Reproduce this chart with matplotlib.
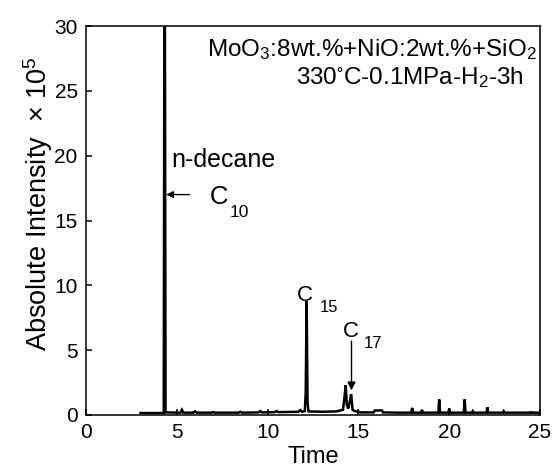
import matplotlib
matplotlib.use("Agg")
import matplotlib.pyplot as plt

plt.rcParams['font.family'] = ['Liberation Sans', 'DejaVu Sans']
plt.rcParams['mathtext.fontset'] = 'custom'
plt.rcParams['mathtext.rm'] = 'Liberation Sans'
plt.rcParams['mathtext.it'] = 'Liberation Sans'
plt.rcParams['mathtext.default'] = 'regular'

# Chromatogram (time, intensity x 1e5)
time = [3.00, 4.28, 4.33, 4.38, 5.20, 5.28, 5.36, 5.90, 6.00, 6.10, 6.90, 7.00, 7.10,
        8.40, 8.50, 8.60, 9.50, 9.60, 9.70, 10.40, 10.50, 10.60, 11.70, 11.80, 11.90,
        12.05, 12.10, 12.15, 12.20, 12.25, 13.00, 13.80, 14.15, 14.22, 14.30, 14.36,
        14.44, 14.52, 14.60, 14.68, 14.80, 15.00, 15.10, 15.85, 15.90, 16.30, 16.35,
        17.20, 17.90, 17.96, 18.02, 18.45, 18.50, 18.55, 19.40, 19.45, 19.50, 19.95,
        20.00, 20.05, 20.80, 20.85, 20.90, 21.25, 21.30, 21.35, 22.05, 22.10, 22.15,
        22.95, 23.00, 23.05, 24.45, 24.50, 24.55, 25.00]
intensity = [0.15, 0.15, 45.0, 0.20, 0.18, 0.40, 0.18, 0.18, 0.28, 0.18, 0.18, 0.22, 0.18,
             0.18, 0.25, 0.18, 0.20, 0.30, 0.20, 0.22, 0.30, 0.22, 0.25, 0.38, 0.25,
             0.30, 1.80, 8.80, 1.00, 0.28, 0.25, 0.28, 0.40, 1.20, 2.30, 0.80,
             0.50, 1.00, 1.60, 0.40, 0.30, 0.25, 0.20, 0.20, 0.35, 0.35, 0.20,
             0.18, 0.18, 0.55, 0.18, 0.18, 0.40, 0.18, 0.18, 1.20, 0.18, 0.18,
             0.50, 0.18, 0.18, 1.20, 0.18, 0.18, 0.30, 0.18, 0.18, 0.60, 0.18,
             0.18, 0.30, 0.18, 0.18, 0.22, 0.18, 0.18]

x_ticks = [0, 5, 10, 15, 20, 25]
y_ticks = [0, 5, 10, 15, 20, 25, 30]

fig = plt.figure(figsize=(5.53, 4.70), dpi=100)
ax = fig.add_axes([86/553, 1 - 415/470, (540 - 86)/553, (415 - 26)/470])

ax.plot(time, intensity, color='black', lw=1.8, solid_joinstyle='miter')

ax.set_xlim(0, 25)
ax.set_ylim(0, 30)
ax.set_xticks(x_ticks)
ax.set_yticks(y_ticks)
ax.tick_params(direction='in', length=4, width=1.1, labelsize=15, pad=6,
               top=False, right=False)
for s in ax.spines.values():
    s.set_linewidth(1.1)

fig.text(313/553, 1 - 468/470, 'Time', fontsize=17, ha='center', va='bottom')
fig.text(38/553, 1 - 204/470, r'Absolute Intensity  $\times$ 10$^{5}$', fontsize=19.5,
         rotation=90, ha='center', va='center')

ax.text(24.8, 28.2, r'MoO$_3$:8wt.%+NiO:2wt.%+SiO$_2$', fontsize=17.5,
        ha='right', va='center')
ax.text(24.1, 26.05, r'330$^{\circ}$C-0.1MPa-H$_2$-3h', fontsize=17.5,
        ha='right', va='center')

ax.text(4.72, 19.1, 'n-decane', fontsize=18, ha='left', va='baseline')
ax.text(6.83, 16.3, 'C', fontsize=18.5, ha='left', va='baseline')
ax.text(7.93, 15.27, '10', fontsize=12.5, ha='left', va='baseline')
ax.annotate('', xy=(4.42, 17.0), xytext=(5.7, 17.0),
            arrowprops=dict(arrowstyle='-|>', color='black', lw=1.0,
                            mutation_scale=10, shrinkA=0, shrinkB=0))

ax.text(11.59, 8.79, 'C', fontsize=16, ha='left', va='baseline')
ax.text(12.86, 7.94, '15', fontsize=12, ha='left', va='baseline')
ax.text(14.17, 6.01, 'C', fontsize=16, ha='left', va='baseline')
ax.text(15.27, 5.17, '17', fontsize=12, ha='left', va='baseline')
ax.annotate('', xy=(14.62, 1.9), xytext=(14.62, 5.7),
            arrowprops=dict(arrowstyle='-|>', color='black', lw=1.0,
                            mutation_scale=12, shrinkA=0, shrinkB=0))

fig.savefig('out.png', dpi=100)
